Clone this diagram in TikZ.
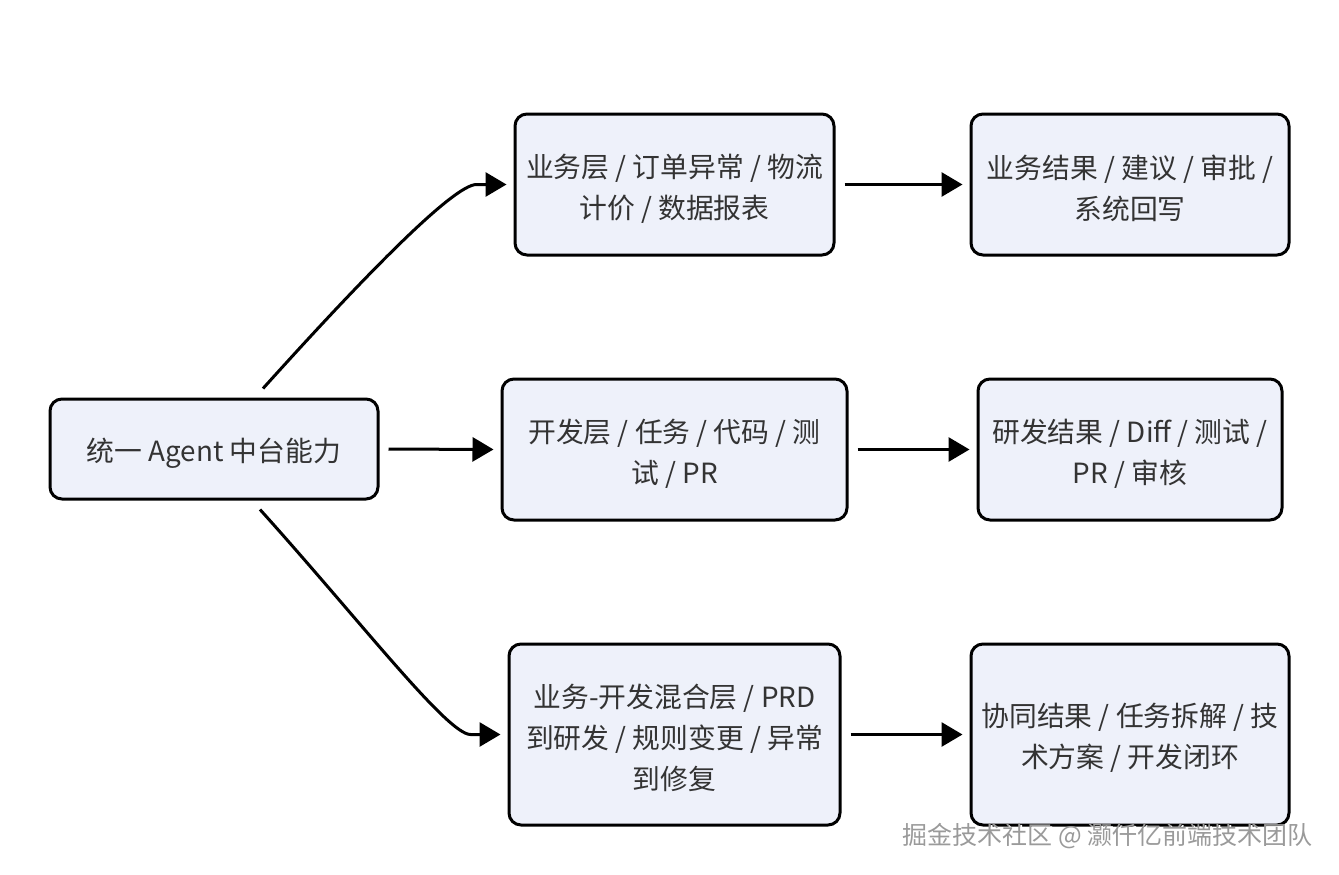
\documentclass[tikz,border=0pt]{standalone}
\usepackage{fontspec}
\setmainfont{Noto Sans CJK SC}
\usetikzlibrary{arrows.meta,calc}
\definecolor{boxfill}{HTML}{EEF1FA}
\definecolor{txt}{HTML}{333333}
\definecolor{wm}{HTML}{9A9A9A}
\tikzset{
  box/.style={draw=black, line width=3pt, fill=boxfill, rounded corners=12pt, inner sep=0pt},
  lbl/.style={align=center, text=txt, font=\fontsize{27.8pt}{41pt}\selectfont, inner sep=0pt},
  conn/.style={line width=3pt, -{Triangle[length=21pt,width=24pt]}, shorten >=7pt},
  straight/.style={conn, shorten <=9pt},
  wmtext/.style={anchor=east, font=\fontsize{25pt}{30pt}\selectfont, inner sep=0pt}
}
\begin{document}
\begin{tikzpicture}[x=1pt,y=-1pt]
\useasboundingbox (0,0) rectangle (1339,875);
\node[box, minimum width=328pt, minimum height=100pt] (A) at (214,449) {};
\node[box, minimum width=319pt, minimum height=141pt] (B1) at (674.5,184.5) {};
\node[box, minimum width=318pt, minimum height=141pt] (C1) at (1130,184.5) {};
\node[box, minimum width=345pt, minimum height=141pt] (B2) at (674.5,449.5) {};
\node[box, minimum width=304pt, minimum height=141pt] (C2) at (1130,449.5) {};
\node[box, minimum width=331pt, minimum height=181pt] (B3) at (674.5,734.5) {};
\node[box, minimum width=318pt, minimum height=181pt] (C3) at (1130,734.5) {};

\node[lbl] (At) at ($(A)+(0,4)$) {统一 Agent 中台能力};
\node[lbl] (B1t) at ($(B1)+(0,4)$) {业务层 / 订单异常 / 物流\\计价 / 数据报表};
\node[lbl] (C1t) at ($(C1)+(0,4)$) {业务结果 / 建议 / 审批 /\\系统回写};
\node[lbl] (B2t) at ($(B2)+(0,4)$) {开发层 / 任务 / 代码 / 测\\试 / PR};
\node[lbl] (C2t) at ($(C2)+(0,4)$) {研发结果 / Diff / 测试 /\\PR / 审核};
\node[lbl] (B3t) at ($(B3)+(0,3)$) {业务-开发混合层 / PRD\\到研发 / 规则变更 / 异常\\到修复};
\node[lbl] (C3t) at ($(C3)+(0,3)$) {协同结果 / 任务拆解 / 技\\术方案 / 开发闭环};

\coordinate (s1) at ($(A.north)+(49,-9)$);
\coordinate (c12) at ($(B1.west)+(-60,0)$);
\coordinate (e1) at ($(B1.west)+(-37,0)$);
\coordinate (s3) at ($(A.south)+(46,9)$);
\coordinate (c32) at ($(B3.west)+(-60,0)$);
\coordinate (e3) at ($(B3.west)+(-37,0)$);

\draw[conn] (s1) .. controls +(100,-111) and (c12) .. (e1) -- (B1.west);
\draw[conn] (s3) .. controls +(100,111) and (c32) .. (e3) -- (B3.west);
\draw[straight] (A.east) -- (B2.west);
\draw[straight] (B1.east) -- (C1.west);
\draw[straight] (B2.east) -- (C2.west);
\draw[straight] (B3.east) -- (C3.west);

\node[wmtext, text=white] (wms) at (1314.5,838) {掘金技术社区 @ 灏仟亿前端技术团队};
\node[wmtext, text=wm] (wmk) at (1313,836.5) {掘金技术社区 @ 灏仟亿前端技术团队};
\end{tikzpicture}
\end{document}
